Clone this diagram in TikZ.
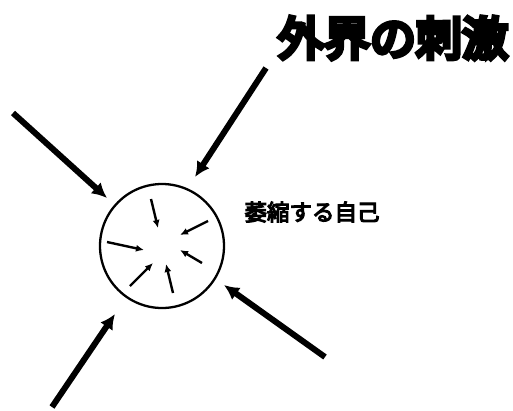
\documentclass[tikz,border=0pt]{standalone}
\usepackage{fontspec}
\newfontfamily\cjkheavy{Noto Sans CJK JP}[FakeBold=10]
\newfontfamily\cjkbold{Noto Sans CJK JP}[FakeBold=5]
\usetikzlibrary{arrows.meta}
\tikzset{
  outer/.style={line width=6pt,-{Latex[length=15pt,width=15pt]}},
  inner/.style={line width=2.4pt,-{Latex[length=8pt,width=7pt]}},
}
\begin{document}
\begin{tikzpicture}[x=1pt,y=-1pt]
\useasboundingbox (0,0) rectangle (513,410);
\node[circle,draw,line width=2.3pt,minimum size=124pt,inner sep=0pt] (self) at (162,246) {};
\node[font=\cjkheavy\fontsize{46}{50}\selectfont,inner sep=0pt] (title) at (393,38) {外界の刺激};
\node[font=\cjkbold\fontsize{22.5}{24}\selectfont,inner sep=0pt] (label) at (312,212) {萎縮する自己};
% outer arrows
\coordinate (a1) at (13,113); \coordinate (a2) at (107,198);
\coordinate (b1) at (266,68); \coordinate (b2) at (195,177);
\coordinate (c1) at (325,357); \coordinate (c2) at (224,285);
\coordinate (d1) at (52,407); \coordinate (d2) at (115,314);
\draw[outer] (a1) -- (a2);
\draw[outer] (b1) -- (b2);
\draw[outer] (c1) -- (c2);
\draw[outer] (d1) -- (d2);
% inner arrows
\coordinate (i1s) at (151,199); \coordinate (i1e) at (158,228);
\coordinate (i2s) at (208,221); \coordinate (i2e) at (180,235);
\coordinate (i3s) at (107,242); \coordinate (i3e) at (144,250);
\coordinate (i4s) at (202,263); \coordinate (i4e) at (180,250);
\coordinate (i5s) at (130,286); \coordinate (i5e) at (153,263);
\coordinate (i6s) at (173,293); \coordinate (i6e) at (166,264);
\draw[inner] (i1s) -- (i1e);
\draw[inner] (i2s) -- (i2e);
\draw[inner] (i3s) -- (i3e);
\draw[inner] (i4s) -- (i4e);
\draw[inner] (i5s) -- (i5e);
\draw[inner] (i6s) -- (i6e);
\end{tikzpicture}
\end{document}
